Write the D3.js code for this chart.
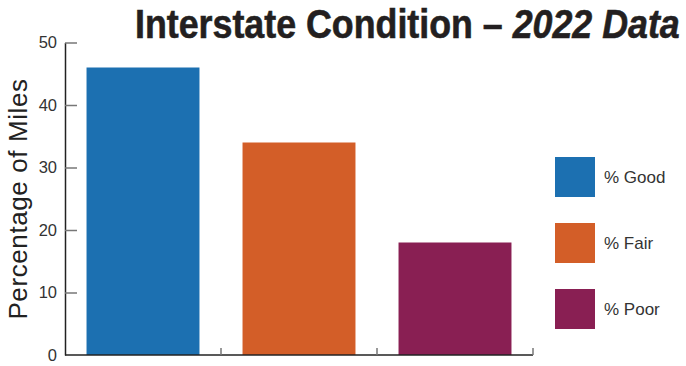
<!DOCTYPE html>
<html><head><meta charset="utf-8">
<script src="https://cdn.jsdelivr.net/npm/d3@7"></script>
<style>body{margin:0;background:#fff}svg{display:block}</style>
</head><body>
<svg id="c" width="686" height="366"></svg>
<script>
const categories = ["% Good", "% Fair", "% Poor"];
const values = [46, 34, 18];
const colors = ["#1c70b1", "#d35e28", "#891f53"];
const yTicks = [0, 10, 20, 30, 40, 50];
const titleMain = "Interstate Condition – ";
const titleItalic = "2022 Data";
const yLabel = "Percentage of Miles";

(function () {
const svg = d3.select("#c");
const mLeft = 65, mRight = 533, mTop = 42.5, mBottom = 355;

const x = d3.scaleBand().domain(categories).range([mLeft, mRight])
  .paddingInner(0.276).paddingOuter(0.138);
const y = d3.scaleLinear().domain([0, 50]).range([mBottom, mTop]);

// bars
svg.append("g").selectAll("rect").data(values).join("rect")
  .attr("x", (d, i) => x(categories[i]))
  .attr("width", x.bandwidth())
  .attr("y", d => y(d))
  .attr("height", d => y(0) - y(d))
  .attr("fill", (d, i) => colors[i]);

// y axis
const ya = svg.append("g").attr("transform", `translate(${mLeft},0)`)
  .call(d3.axisLeft(y).tickValues(yTicks).tickSizeInner(-12).tickSizeOuter(0).tickPadding(8));
ya.select(".domain").attr("stroke", "#222").attr("stroke-width", 1.5);
ya.selectAll(".tick line").attr("stroke", "#777").attr("stroke-width", 1.5)
  .filter(d => d === 0).remove();
ya.selectAll(".tick text").attr("fill", "#333").style("font-family", "Liberation Sans, Arial, sans-serif").style("font-size", "16.5px");

// x axis baseline + boundary ticks
const step = x.step(), po = x.paddingOuter();
const bounds = categories.map(c => x(c) - po * step + step);
svg.append("line").attr("x1", mLeft).attr("x2", mRight).attr("y1", mBottom).attr("y2", mBottom)
  .attr("stroke", "#222").attr("stroke-width", 1.5);
svg.append("g").selectAll("line").data(bounds).join("line")
  .attr("x1", d => d).attr("x2", d => d).attr("y1", mBottom).attr("y2", mBottom - 7)
  .attr("stroke", "#777").attr("stroke-width", 1.5);

// y label
svg.append("text").attr("transform", `translate(27,199) rotate(-90)`)
  .attr("text-anchor", "middle").attr("fill", "#222")
  .style("font-family", "Liberation Sans, Arial, sans-serif").style("font-size", "26px")
  .style("letter-spacing", "0.6px")
  .text(yLabel);

// legend
const lg = svg.append("g").selectAll("g").data(categories).join("g")
  .attr("transform", (d, i) => `translate(555,${157 + i * 66})`);
lg.append("rect").attr("width", 40).attr("height", 40).attr("fill", (d, i) => colors[i]);
lg.append("text").attr("x", 49).attr("y", 26).attr("fill", "#333")
  .style("font-family", "Liberation Sans, Arial, sans-serif").style("font-size", "17px")
  .text(d => d);

// title
const t = svg.append("text").attr("fill", "#231f20")
  .style("font-family", "Liberation Sans Narrow, Arial Narrow, sans-serif")
  .style("font-weight", "bold").style("font-size", "40px")
  .style("stroke", "#231f20").style("stroke-width", "0.6px");
t.append("tspan").text(titleMain);
t.append("tspan").style("font-style", "italic").text(titleItalic);
const w = t.node().getComputedTextLength();
const sx = (680 - 135) / w;
t.attr("transform", `translate(135,38) scale(${sx},1)`);
})();
</script>
</body></html>
